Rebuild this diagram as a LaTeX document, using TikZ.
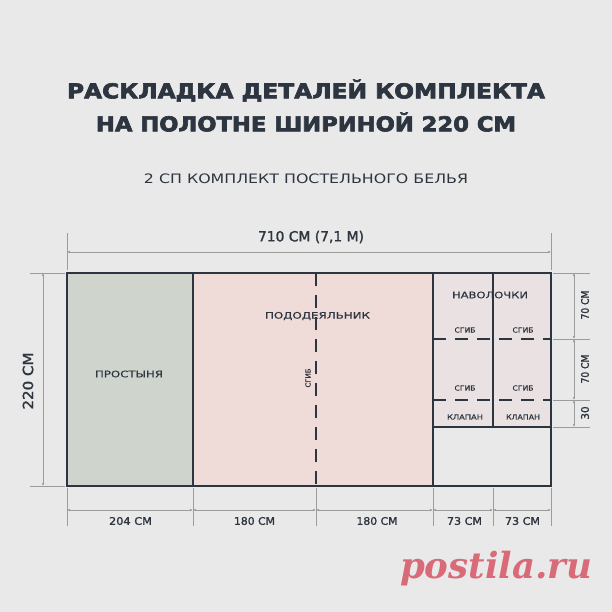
\documentclass[tikz,border=0pt]{standalone}
\usepackage{fontspec}
\usepackage{graphicx}
\setmainfont{DejaVu Sans}
\newfontfamily\wmfont{DejaVu Serif}
\usetikzlibrary{arrows.meta}
\definecolor{bgc}{HTML}{E9E9E9}
\definecolor{ink}{HTML}{2D3540}
\definecolor{greenc}{HTML}{CFD4CC}
\definecolor{pinkc}{HTML}{EFDBD8}
\definecolor{pillowc}{HTML}{EAE2E2}
\definecolor{dimc}{HTML}{9B9B9B}
\definecolor{wmc}{HTML}{D96A78}
\newcommand\fitto[2]{\resizebox{#1}{\height}{#2}}
\begin{document}
\begin{tikzpicture}[x=1pt,y=-1pt,
  outline/.style={draw=ink,line width=2.4pt},
  fold/.style={draw=ink,line width=2.4pt,dash pattern=on 13pt off 9pt},
  dimline/.style={draw=dimc,line width=0.7pt,{Latex[length=3pt,width=2.6pt]}-{Latex[length=3pt,width=2.6pt]}},
  ext/.style={draw=dimc,line width=0.7pt},
  title/.style={text=ink,font=\bfseries\fontsize{20.5}{24}\selectfont\addfontfeatures{FakeBold=3},inner sep=0pt},
  subtitle/.style={text=ink,font=\fontsize{13}{15}\selectfont,inner sep=0pt},
  piece/.style={text=ink,font=\fontsize{9}{10}\selectfont\addfontfeatures{FakeBold=0.4},inner sep=0pt},
  tiny/.style={text=ink,font=\fontsize{7}{8}\selectfont\addfontfeatures{FakeBold=0.4},inner sep=0pt},
  dimtxt/.style={text=ink,font=\fontsize{10.5}{12}\selectfont\addfontfeatures{FakeBold=1.5},inner sep=0pt},
  bigdim/.style={text=ink,font=\fontsize{14}{16}\selectfont\addfontfeatures{FakeBold=1.5},inner sep=0pt}
]
\fill[bgc] (0,0) rectangle (612,612);
\useasboundingbox (0,0) rectangle (612,612);

% titles
\node[title] (t1) at (306,90.5) {\fitto{478pt}{РАСКЛАДКА ДЕТАЛЕЙ КОМПЛЕКТА}};
\node[title] (t2) at (306,122) {\fitto{420pt}{НА ПОЛОТНЕ ШИРИНОЙ 220 СМ}};
\node[subtitle] (st) at (306,179) {\fitto{324pt}{2 СП КОМПЛЕКТ ПОСТЕЛЬНОГО БЕЛЬЯ}};

% key coordinates
\coordinate (TL) at (67,273);
\coordinate (BR) at (551,486);

% fills
\fill[greenc] (67,273) rectangle (193,486);
\fill[pinkc] (193,273) rectangle (433,486);
\fill[pillowc] (433,273) rectangle (551,427);

% fold lines
\draw[fold] (316,273) -- (316,486);
\draw[fold] (433,339) -- (551,339);
\draw[fold] (433,400) -- (551,400);

% outlines
\draw[outline] (TL) rectangle (BR);
\draw[outline] (193,273) -- (193,486);
\draw[outline] (433,273) -- (433,486);
\draw[outline] (493,273) -- (493,427);
\draw[outline] (433,427) -- (551,427);

% piece labels
\node[piece] (prost) at (129,374) {\fitto{68pt}{ПРОСТЫНЯ}};
\node[piece] (podo) at (317.5,316) {\fitto{105pt}{ПОДОДЕЯЛЬНИК}};
\node[piece] (nav) at (490,295) {\fitto{76pt}{НАВОЛОЧКИ}};
\node[tiny] (s1) at (465,330) {\fitto{21pt}{СГИБ}};
\node[tiny] (s2) at (523,330) {\fitto{21pt}{СГИБ}};
\node[tiny] (s3) at (465,388) {\fitto{21pt}{СГИБ}};
\node[tiny] (s4) at (523,388) {\fitto{21pt}{СГИБ}};
\node[tiny] (k1) at (465,417) {\fitto{36pt}{КЛАПАН}};
\node[tiny] (k2) at (523,417) {\fitto{34pt}{КЛАПАН}};
\node[tiny,rotate=90] (s5) at (308,378) {\fitto{19pt}{СГИБ}};

% top dimension
\coordinate (tx1) at (67,233); \coordinate (tx1b) at (67,270);
\coordinate (tx2) at (551,233); \coordinate (tx2b) at (551,270);
\draw[ext] (tx1) -- (tx1b);
\draw[ext] (tx2) -- (tx2b);
\coordinate (ta) at (67,252); \coordinate (tb) at (551,252);
\draw[dimline] (ta) -- (tb);
\node[bigdim] (dtop) at (311,237) {\fitto{106pt}{710 СМ (7,1 М)}};

% left dimension
\coordinate (la1) at (30,273); \coordinate (la2) at (65,273);
\coordinate (lb1) at (30,486); \coordinate (lb2) at (65,486);
\draw[ext] (la1) -- (la2);
\draw[ext] (lb1) -- (lb2);
\coordinate (lt) at (43,273); \coordinate (lb) at (43,486);
\draw[dimline] (lt) -- (lb);
\node[bigdim,rotate=90] (dleft) at (28,381) {\fitto{57pt}{220 СМ}};

% right dimension
\foreach \y/\n in {273/a,339/b,400/c,427/d}{
  \coordinate (re\n1) at (553,\y); \coordinate (re\n2) at (590,\y);
  \draw[ext] (re\n1) -- (re\n2);
  \coordinate (r\n) at (574,\y);
}
\draw[dimline] (ra) -- (rb);
\draw[dimline] (rb) -- (rc);
\draw[dimline] (rc) -- (rd);
\node[dimtxt,rotate=90] (dr1) at (585,305) {\fitto{29pt}{70 СМ}};
\node[dimtxt,rotate=90] (dr2) at (585,369) {\fitto{29pt}{70 СМ}};
\node[dimtxt,rotate=90] (dr3) at (585,413) {30};

% bottom dimension
\foreach \x/\n in {67/a,193/b,316/c,433/d,493/e,551/f}{
  \coordinate (be\n1) at (\x,488); \coordinate (be\n2) at (\x,526);
  \draw[ext] (be\n1) -- (be\n2);
  \coordinate (b\n) at (\x,510);
}
\draw[dimline] (ba) -- (bb);
\draw[dimline] (bb) -- (bc);
\draw[dimline] (bc) -- (bd);
\draw[dimline] (bd) -- (be);
\draw[dimline] (be) -- (bf);
\node[dimtxt] (d1) at (130.5,521) {\fitto{43pt}{204 СМ}};
\node[dimtxt] (d2) at (254.5,521) {\fitto{41pt}{180 СМ}};
\node[dimtxt] (d3) at (377,521) {\fitto{41pt}{180 СМ}};
\node[dimtxt] (d4) at (464.5,521) {\fitto{35pt}{73 СМ}};
\node[dimtxt] (d5) at (522.5,521) {\fitto{35pt}{73 СМ}};

% watermark
\node[text=wmc,font=\wmfont\bfseries\itshape\fontsize{36}{40}\selectfont,inner sep=0pt] (wm) at (496,569) {\fitto{192pt}{postila.ru}};
\end{tikzpicture}
\end{document}
